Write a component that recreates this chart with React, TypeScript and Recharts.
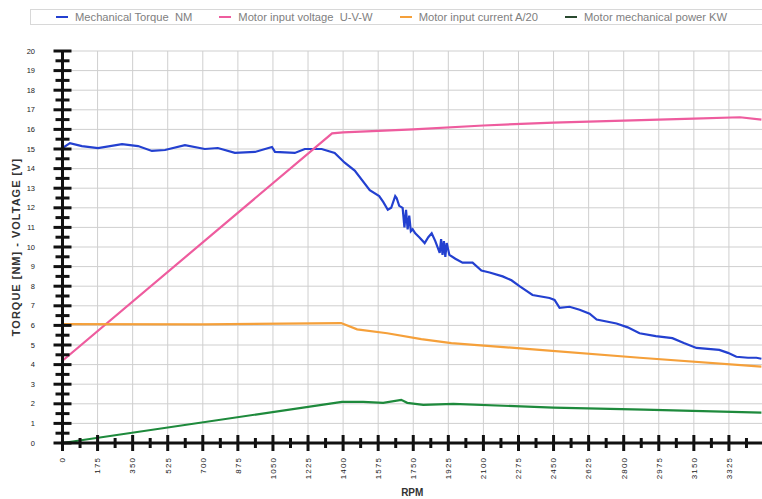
import React from 'react';
import { LineChart, Line, XAxis, YAxis, CartesianGrid } from 'recharts';

// ---- data ----
const torqueRpm = [0, 37, 97, 177, 297, 377, 446, 511, 611, 710, 775, 860, 960, 1045, 1060, 1159, 1209, 1293, 1358, 1408, 1458, 1533, 1580, 1600, 1623, 1640, 1660, 1667, 1680, 1697, 1706, 1714, 1722, 1730, 1738, 1747, 1760, 1780, 1807, 1825, 1842, 1860, 1882, 1889, 1896, 1903, 1910, 1917, 1930, 1960, 1996, 2046, 2090, 2131, 2196, 2240, 2280, 2345, 2430, 2455, 2480, 2530, 2580, 2630, 2665, 2764, 2820, 2879, 2960, 3043, 3100, 3163, 3277, 3320, 3362, 3420, 3462, 3487];
const torqueVal = [15.05, 15.3, 15.15, 15.05, 15.25, 15.15, 14.9, 14.95, 15.2, 15.0, 15.05, 14.8, 14.85, 15.1, 14.85, 14.8, 15.0, 15.0, 14.8, 14.3, 13.9, 12.9, 12.6, 12.3, 11.9, 12.0, 12.6, 12.5, 12.1, 12.0, 11.0, 11.9, 10.9, 11.6, 10.8, 10.9, 10.7, 10.5, 10.2, 10.5, 10.7, 10.3, 9.7, 10.4, 9.6, 10.3, 9.5, 10.2, 9.6, 9.4, 9.2, 9.2, 8.8, 8.7, 8.5, 8.3, 8.0, 7.55, 7.4, 7.3, 6.9, 6.95, 6.8, 6.6, 6.3, 6.1, 5.9, 5.6, 5.45, 5.35, 5.1, 4.85, 4.75, 4.6, 4.4, 4.35, 4.35, 4.3];

const voltageRpm = [0, 1345, 1400, 1750, 2100, 2450, 2800, 3150, 3380, 3487];
const voltageVal = [4.2, 15.8, 15.85, 16.0, 16.2, 16.35, 16.45, 16.55, 16.62, 16.5];

const currentRpm = [0, 700, 1390, 1470, 1620, 1790, 1940, 2380, 2880, 3487];
const currentVal = [6.07, 6.05, 6.12, 5.8, 5.6, 5.3, 5.1, 4.75, 4.35, 3.9];

const powerRpm = [0, 1394, 1500, 1600, 1690, 1720, 1800, 1950, 2450, 2900, 3487];
const powerVal = [0, 2.1, 2.1, 2.05, 2.2, 2.05, 1.95, 2.0, 1.8, 1.7, 1.55];

const seriesNames = ['Mechanical Torque  NM', 'Motor input voltage  U-V-W', 'Motor input current A/20', 'Motor mechanical power KW'];
const seriesColors = ['#2340d0', '#ee5c9e', '#f5a03a', '#1e8a3c'];
const legendDashColors = ['#2340d0', '#ee5c9e', '#f5a03a', '#2a4a30'];

const xMajorTicks = [0, 175, 350, 525, 700, 875, 1050, 1225, 1400, 1575, 1750, 1925, 2100, 2275, 2450, 2625, 2800, 2975, 3150, 3325];
const xMinorTicks = [87.5, 262.5, 437.5, 612.5, 787.5, 962.5, 1137.5, 1312.5, 1487.5, 1662.5, 1837.5, 2012.5, 2187.5, 2362.5, 2537.5, 2712.5, 2887.5, 3062.5, 3237.5, 3412.5];
const yMajorTicks = [0, 1, 2, 3, 4, 5, 6, 7, 8, 9, 10, 11, 12, 13, 14, 15, 16, 17, 18, 19, 20];
const yMinorTicks = [0.5, 1.5, 2.5, 3.5, 4.5, 5.5, 6.5, 7.5, 8.5, 9.5, 10.5, 11.5, 12.5, 13.5, 14.5, 15.5, 16.5, 17.5, 18.5, 19.5];

const xAllTicks = [...xMajorTicks, ...xMinorTicks].sort((a, b) => a - b);
const yAllTicks = [...yMajorTicks, ...yMinorTicks].sort((a, b) => a - b);

const zip = (rpm: number[], val: number[]) => rpm.map((r, i) => ({ rpm: r, v: val[i] }));
const seriesData = [zip(torqueRpm, torqueVal), zip(voltageRpm, voltageVal), zip(currentRpm, currentVal), zip(powerRpm, powerVal)];

const FONT = '"Liberation Sans", Arial, sans-serif';

const XTick = (props: any) => {
  const { x, y, payload } = props;
  const major = xMajorTicks.includes(payload.value);
  const len = major ? 8 : 5;
  const ty = y + 14;
  return (
    <g>
      <line x1={x} x2={x} y1={y - len} y2={y + len} stroke="#111" strokeWidth={3} />
      {major && (
        <text x={x} y={ty} transform={`rotate(-90 ${x} ${ty})`} textAnchor="end" dy="0.35em" fontSize={8} letterSpacing={1.1} fill="#222" fontFamily={FONT}>
          {payload.value}
        </text>
      )}
    </g>
  );
};

const YTick = (props: any) => {
  const { x, y, payload } = props;
  const major = yMajorTicks.includes(payload.value);
  const len = major ? 9 : 7;
  return (
    <g>
      <line x1={x - len} x2={x + len} y1={y} y2={y} stroke="#111" strokeWidth={3} />
      {major && (
        <text x={x - 27.5} y={y} textAnchor="end" dy="0.35em" fontSize={7.5} fill="#222" fontFamily={FONT}>
          {payload.value}
        </text>
      )}
    </g>
  );
};

const YLabel = (props: any) => {
  const vb = props.viewBox || { x: 0, y: 51, width: 62.5, height: 392 };
  const cx = vb.x + 16;
  const cy = vb.y + vb.height / 2;
  return (
    <text x={cx} y={cy} transform={`rotate(-90 ${cx} ${cy})`} textAnchor="middle" dy="0.35em" fontSize={11} fontWeight="bold" letterSpacing={1} fill="#333" fontFamily={FONT}>
      TORQUE [NM] - VOLTAGE [V]
    </text>
  );
};

const ChartLegend = () => (
  <div style={{ position: 'absolute', left: 30, top: 9, width: 740, height: 16, border: '1px solid #d8d8d8', boxSizing: 'border-box', display: 'flex', alignItems: 'center', fontFamily: FONT, fontSize: 11.2, color: '#808080', whiteSpace: 'pre' }}>
    {seriesNames.map((n, i) => (
      <div key={n} style={{ display: 'flex', alignItems: 'center', marginLeft: i === 0 ? 25 : 27 }}>
        <span style={{ display: 'inline-block', width: 12, height: 2, background: legendDashColors[i], marginRight: 7 }} />
        <span>{n}</span>
      </div>
    ))}
  </div>
);

export default function App() {
  return (
    <div style={{ position: 'relative', width: 762, height: 499, overflow: 'hidden', background: '#fff' }}>
      <style>{'body{margin:0;}'}</style>
      <ChartLegend />
      <LineChart width={762} height={499} margin={{ top: 51, right: 0, bottom: 0, left: 0 }}>
        <CartesianGrid stroke="#cfcfcf" strokeWidth={1} verticalValues={xMajorTicks} horizontalValues={yMajorTicks} />
        <XAxis
          type="number"
          dataKey="rpm"
          domain={[0, 3490]}
          ticks={xAllTicks}
          interval={0}
          height={56}
          tickSize={0}
          tickMargin={0}
          tickLine={false}
          axisLine={{ stroke: '#111', strokeWidth: 3 }}
          tick={<XTick />}
          allowDataOverflow
          label={{ value: 'RPM', position: 'insideBottom', offset: 3, fontSize: 10, fontWeight: 'bold', fill: '#333', fontFamily: FONT }}
        />
        <YAxis
          type="number"
          domain={[0, 20]}
          ticks={yAllTicks}
          interval={0}
          width={62.5}
          tickSize={0}
          tickMargin={0}
          tickLine={false}
          axisLine={{ stroke: '#111', strokeWidth: 3 }}
          tick={<YTick />}
          label={<YLabel />}
        />
        {seriesData.map((d, i) => (
          <Line key={seriesNames[i]} data={d} dataKey="v" name={seriesNames[i]} type="linear" stroke={seriesColors[i]} strokeWidth={2.2} dot={false} activeDot={false} isAnimationActive={false} />
        ))}
      </LineChart>
    </div>
  );
}
